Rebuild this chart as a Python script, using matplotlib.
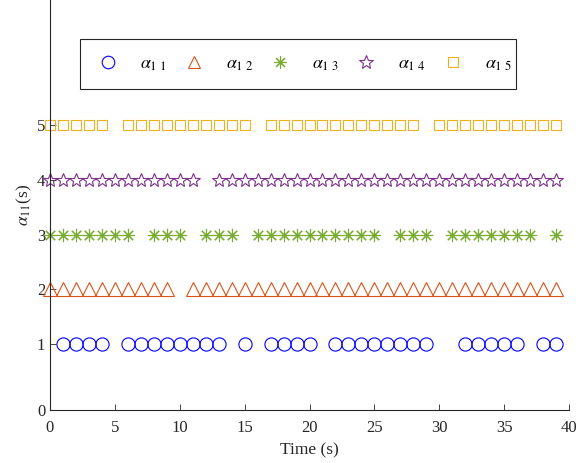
import matplotlib.pyplot as plt
from matplotlib.lines import Line2D
from matplotlib.patches import Rectangle

plt.rcParams['font.family'] = ['Liberation Serif', 'DejaVu Serif']
plt.rcParams['mathtext.fontset'] = 'stix'

# Time steps (s) at which each alpha_1j is active
t_a11 = [1, 2, 3, 4, 6, 7, 8, 9, 10, 11, 12, 13, 15, 17, 18, 19, 20,
         22, 23, 24, 25, 26, 27, 28, 29, 32, 33, 34, 35, 36, 38, 39]
t_a12 = [0, 1, 2, 3, 4, 5, 6, 7, 8, 9] + list(range(11, 40))
t_a13 = [0, 1, 2, 3, 4, 5, 6, 8, 9, 10, 12, 13, 14, 16, 17, 18, 19, 20,
         21, 22, 23, 24, 25, 27, 28, 29, 31, 32, 33, 34, 35, 36, 37, 39]
t_a14 = list(range(0, 12)) + list(range(13, 40))
t_a15 = [0, 1, 2, 3, 4] + list(range(6, 16)) + list(range(17, 29)) + list(range(30, 40))

levels = [1, 2, 3, 4, 5]
labels = [r'$\alpha_{1\ 1}$', r'$\alpha_{1\ 2}$', r'$\alpha_{1\ 3}$',
          r'$\alpha_{1\ 4}$', r'$\alpha_{1\ 5}$']
colors = ['#0000FF', '#D95319', '#77AC30', '#7E2F8E', '#EDB120']
markers = ['o', '^', (8, 2, 0), '*', 's']
sizes = [9.5, 9.5, 9.5, 10.5, 7.5]

fig = plt.figure(figsize=(5.79, 4.63), dpi=100)
ax = fig.add_axes([50 / 579, 53 / 463, 519 / 579, 410 / 463])

handles = []
for times, lev, lab, c, m, s in zip([t_a11, t_a12, t_a13, t_a14, t_a15],
                                    levels, labels, colors, markers, sizes):
    ax.plot(times, [lev] * len(times), linestyle='none', marker=m,
            markersize=s, markerfacecolor='none', markeredgecolor=c,
            markeredgewidth=0.8, clip_on=False)
    handles.append(Line2D([], [], linestyle='none', marker=m, markersize=s * 0.95,
                          markerfacecolor='none', markeredgecolor=c,
                          markeredgewidth=0.8, label=lab))

ax.set_xlim(0, 40)
ax.set_ylim(-0.2, 7.28)
ax.set_xticks([0, 5, 10, 15, 20, 25, 30, 35, 40])
ax.set_yticks([-0.2, 1, 2, 3, 4, 5])
ax.set_yticklabels(['0', '1', '2', '3', '4', '5'])
ax.tick_params(direction='in', length=4, width=0.6, labelsize=12,
               colors='#262626')
ax.tick_params(axis='x', pad=7)
for side in ['top', 'right']:
    ax.spines[side].set_visible(False)
for side in ['left', 'bottom']:
    ax.spines[side].set_linewidth(0.8)
    ax.spines[side].set_color('#262626')

ax.set_xlabel('Time (s)', fontsize=12.5, color='#262626', labelpad=5)
ax.set_ylabel(r'$\alpha_{11}$(s)', fontsize=12.5, color='#262626', labelpad=2)

# legend box drawn separately so its size matches the original
ax.add_patch(Rectangle((30 / 519, 1 - 89 / 410), 436 / 519, 50 / 410,
                       transform=ax.transAxes, fill=False, linewidth=0.8,
                       edgecolor='#262626', clip_on=False, zorder=4))
leg = ax.legend(handles=handles, loc='center left', ncol=5,
                bbox_to_anchor=(40 / 519, 1 - 64 / 410),
                fontsize=13, frameon=False, handlelength=2.0,
                handletextpad=0.78, columnspacing=0.5, borderpad=0,
                borderaxespad=0)

fig.savefig('out.png', dpi=100)
plt.close(fig)
